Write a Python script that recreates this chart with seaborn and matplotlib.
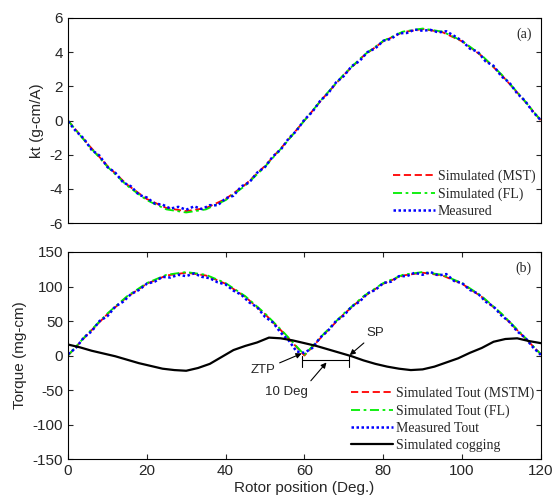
"""
Torque constant and output torque vs rotor position
"""

# Libraries
import numpy as np
import seaborn as sns
import matplotlib.pyplot as plt

# Configure
sns.set_theme(style="ticks")
plt.rcParams['font.family'] = ['Liberation Sans', 'DejaVu Sans']
plt.rcParams['axes.unicode_minus'] = False

# ---------------------------------
# Data
# ---------------------------------
# Simulated curves, every 5 deg
sim_pos = np.arange(0, 121, 5)
kt_mst = [0, -1.37, -2.65, -3.75, -4.59, -5.12, -5.30, -5.12, -4.59, -3.75,
          -2.65, -1.37, 0, 1.38, 2.67, 3.78, 4.63, 5.17, 5.35, 5.17, 4.63,
          3.78, 2.67, 1.38, 0]
kt_fl = [0, -1.40, -2.70, -3.81, -4.66, -5.20, -5.38, -5.20, -4.66, -3.81,
         -2.70, -1.40, 0, 1.40, 2.70, 3.81, 4.66, 5.20, 5.38, 5.20, 4.66,
         3.81, 2.70, 1.40, 0]
tout_mst = [0, 31, 60, 85, 104, 116, 120, 116, 104, 85, 60, 31, 0,
            31, 60, 85, 104, 116, 120, 116, 104, 85, 60, 31, 2]
tout_fl = [0, 32, 61, 86, 105, 117, 121, 117, 105, 86, 61, 32, 1,
           32, 61, 86, 105, 117, 121, 117, 105, 86, 61, 32, 2]

# Measured curves, every 2 deg
meas_pos = np.arange(0, 121, 2)
kt_meas = [-0.05, -0.62, -1.05, -1.72, -2.05, -2.72, -3.05, -3.62, -3.85,
           -4.35, -4.50, -4.86, -4.92, -5.15, -5.05, -5.22, -5.02, -5.18,
           -4.95, -4.96, -4.55, -4.40, -3.85, -3.62, -3.05, -2.72, -2.10,
           -1.70, -1.05, -0.60, 0.05, 0.50, 1.15, 1.58, 2.22, 2.60, 3.18,
           3.48, 4.00, 4.22, 4.66, 4.78, 5.10, 5.12, 5.32, 5.25, 5.30, 5.15,
           5.22, 4.95, 4.66, 4.20, 4.02, 3.45, 3.20, 2.58, 2.22, 1.58, 1.15,
           0.50, 0.02]
tout_meas = [2, 11, 26, 35, 50, 57, 71, 78, 89, 95, 104, 107, 114, 113, 117,
             115, 119, 114, 112, 106, 103, 94, 88, 77, 70, 56, 48, 33, 22, 6,
             4, 11, 26, 36, 50, 58, 71, 78, 90, 95, 105, 107, 115, 115, 120,
             117, 121, 116, 118, 108, 105, 95, 90, 78, 71, 58, 49, 35, 26, 12,
             1]

# Simulated cogging, every 3 deg
cog_pos = np.arange(0, 121, 3)
cogging = [16, 12, 7, 3, -1, -6, -11, -15, -19, -21, -22, -18, -12, -2, 8,
           14, 19, 26, 25, 22, 18, 14, 9, 4, -1, -7, -12, -16, -19, -21, -20,
           -16, -10, -4, 4, 11, 20, 24, 25, 21, 18]

serif = {'family': 'Liberation Serif', 'size': 10}

# ---------------------------------
# Figure
# ---------------------------------
fig = plt.figure(figsize=(5.55, 4.98), dpi=100)
ax1 = fig.add_axes([0.1225, 0.552, 0.852, 0.412])
ax2 = fig.add_axes([0.1225, 0.078, 0.852, 0.416])

# ---------------------------
# (a) torque constant
# ---------------------------
sns.lineplot(x=sim_pos, y=kt_mst, ax=ax1, color='red', lw=1.3,
             linestyle=(0, (4, 2)), label='Simulated (MST)')
sns.lineplot(x=sim_pos, y=kt_fl, ax=ax1, color='#00ee00', lw=1.3,
             linestyle=(0, (5, 2, 1.5, 2)), label='Simulated (FL)')
sns.lineplot(x=meas_pos, y=kt_meas, ax=ax1, color='blue', lw=1.8,
             linestyle=(0, (1, 1)), label='Measured')

ax1.set(xlim=(0, 120), ylim=(-6, 6), yticks=np.arange(-6, 7, 2),
        xlabel='', ylabel='kt (g-cm/A)')
ax1.tick_params(direction='in', length=3.5, width=0.8, labelsize=11,
                right=True, bottom=False, labelbottom=False)
ax1.yaxis.label.set_size(11)
ax1.text(0.98, 0.955, '(a)', transform=ax1.transAxes, ha='right',
         va='top', fontdict=serif)
ax1.legend(loc='lower right', frameon=False, prop=serif, handlelength=3,
           labelspacing=0.28, handletextpad=0.2, borderaxespad=0.0)

# ---------------------------
# (b) output torque
# ---------------------------
sns.lineplot(x=sim_pos, y=tout_mst, ax=ax2, color='red', lw=1.3,
             linestyle=(0, (4, 2)), label='Simulated Tout (MSTM)')
sns.lineplot(x=sim_pos, y=tout_fl, ax=ax2, color='#00ee00', lw=1.3,
             linestyle=(0, (5, 2, 1.5, 2)), label='Simulated Tout (FL)')
sns.lineplot(x=meas_pos, y=tout_meas, ax=ax2, color='blue', lw=1.8,
             linestyle=(0, (1, 1)), label='Measured Tout')
sns.lineplot(x=cog_pos, y=cogging, ax=ax2, color='black', lw=1.6,
             label='Simulated cogging')

ax2.set(xlim=(0, 120), ylim=(-150, 150), xticks=np.arange(0, 121, 20),
        yticks=np.arange(-150, 151, 50),
        xlabel='Rotor position (Deg.)', ylabel='Torque (mg-cm)')
ax2.tick_params(direction='in', length=3.5, width=0.8, labelsize=11,
                right=True, top=True)
ax2.xaxis.label.set_size(11)
ax2.yaxis.label.set_size(11)
ax2.xaxis.labelpad = 2
ax2.text(0.98, 0.955, '(b)', transform=ax2.transAxes, ha='right',
         va='top', fontdict=serif)
ax2.legend(loc='lower right', frameon=False, prop=serif, handlelength=3,
           labelspacing=0.3, handletextpad=0.2, borderaxespad=0.1)

# Annotations
arrow = dict(arrowstyle='-|>', color='black', lw=0.8, mutation_scale=8,
             shrinkA=1, shrinkB=0)
ax2.annotate('ZTP', xy=(59.3, 3), xytext=(49.4, -21), fontsize=9.5,
             ha='center', va='center', arrowprops=arrow)
ax2.annotate('SP', xy=(71.5, 0.7), xytext=(78.1, 33), fontsize=9.5,
             ha='center', va='center', arrowprops=arrow)
ax2.annotate('', xy=(65.6, -10), xytext=(61.4, -38), arrowprops=arrow)
ax2.text(55.5, -52.5, '10 Deg', fontsize=9.5, ha='center', va='center')
ax2.plot([59.5, 71.3], [-6.5, -6.5], color='black', lw=0.8)
ax2.plot([59.5, 59.5], [-1, -16], color='black', lw=0.8)
ax2.plot([71.3, 71.3], [-1, -16], color='black', lw=0.8)

for ax in (ax1, ax2):
    for s in ax.spines.values():
        s.set_color('black')
        s.set_linewidth(0.8)

# Save
fig.savefig('out.png', dpi=100)
